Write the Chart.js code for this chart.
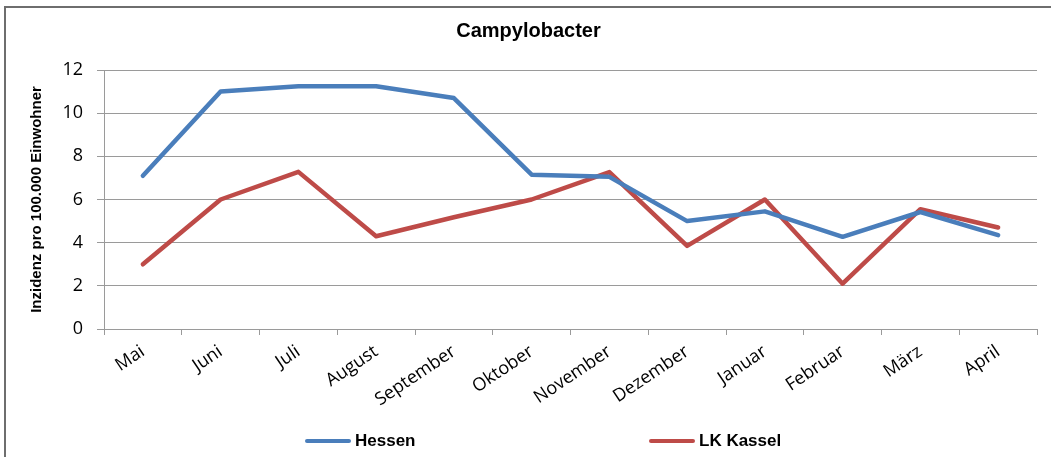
<!DOCTYPE html>
<html>
<head>
<meta charset="utf-8">
<script src="https://cdn.jsdelivr.net/npm/chart.js@4/dist/chart.umd.min.js"></script>
<style>
  html, body { margin: 0; padding: 0; background: #fff; overflow: hidden; }
  #wrap { position: relative; width: 1051px; height: 457px; }
  #frame { position: absolute; left: 4px; top: 6px; width: 1100px; height: 500px;
           border-left: 2px solid #6e6e6e; border-top: 2px solid #6e6e6e; }
  #chart { position: absolute; left: 0; top: 0; }
  .leg { position: absolute; top: 430px; height: 22px; display: flex; align-items: center;
         font: bold 17px "Liberation Sans", Arial, sans-serif; color: #000; }
  .leg span.line { display: inline-block; width: 46px; height: 4px; border-radius: 2px; margin-right: 4px; }
</style>
</head>
<body>
<div id="wrap">
  <div id="frame"></div>
  <canvas id="chart" width="1051" height="457"></canvas>
  <div class="leg" style="left:305px"><span class="line" style="background:#4a7ebb"></span>Hessen</div>
  <div class="leg" style="left:649px"><span class="line" style="background:#be4b48"></span>LK Kassel</div>
</div>
<script>
// months shown on the x axis
const months = ['Mai', 'Juni', 'Juli', 'August', 'September', 'Oktober',
  'November', 'Dezember', 'Januar', 'Februar', 'März', 'April'];

// incidence per 100,000 inhabitants
const hessen = [7.1, 11.0, 11.25, 11.25, 10.7, 7.15, 7.05, 5.0, 5.45, 4.27, 5.42, 4.35];
const lkKassel = [3.0, 6.0, 7.28, 4.3, 5.18, 6.0, 7.27, 3.85, 6.0, 2.1, 5.55, 4.7];

const chartTitle = 'Campylobacter';
const yTitle = 'Inzidenz pro 100.000 Einwohner';

const tickFont = { family: '"Open Sans", sans-serif', size: 18 };
const gridColor = '#9a9a9a';

new Chart(document.getElementById('chart'), {
  type: 'line',
  data: {
    labels: months,
    datasets: [
      { label: 'Hessen', data: hessen, borderColor: '#4a7ebb', backgroundColor: '#4a7ebb' },
      { label: 'LK Kassel', data: lkKassel, borderColor: '#be4b48', backgroundColor: '#be4b48' },
    ],
  },
  options: {
    responsive: false,
    devicePixelRatio: 1,
    animation: false,
    layout: { padding: { left: 20, right: 14, top: 0, bottom: 0 } },
    elements: {
      line: { borderWidth: 4.5, tension: 0, borderJoinStyle: 'round', borderCapStyle: 'round' },
      point: { radius: 0, hoverRadius: 0 },
    },
    plugins: {
      legend: { display: false },
      tooltip: { enabled: false },
      title: {
        display: true,
        text: chartTitle,
        color: '#000',
        font: { family: '"Liberation Sans", Arial, sans-serif', size: 20, weight: 'bold' },
        padding: { top: 19, bottom: 27 },
      },
    },
    scales: {
      x: {
        offset: true,
        grid: { offset: true, drawOnChartArea: false, drawTicks: true, tickLength: 6, color: gridColor },
        border: { color: gridColor },
        ticks: { color: '#000', font: tickFont, minRotation: 34, maxRotation: 34, padding: 6, autoSkip: false },
        afterFit(scale) { scale.height = 128; },
      },
      y: {
        min: 0,
        max: 12,
        grid: { color: gridColor, tickLength: 7 },
        border: { color: gridColor },
        ticks: { stepSize: 2, color: '#000', font: tickFont, padding: 14 },
        title: {
          display: true,
          text: yTitle,
          color: '#000',
          font: { family: '"Liberation Sans", Arial, sans-serif', size: 15, weight: 'bold' },
          padding: { top: 8, bottom: 0 },
        },
        afterFit(scale) { scale.width = 84; },
      },
    },
  },
});
</script>
</body>
</html>
